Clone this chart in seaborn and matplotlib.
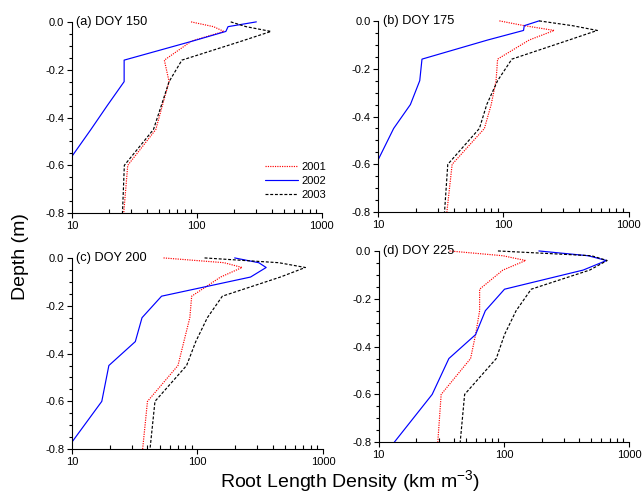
import numpy as np
import pandas as pd
import seaborn as sns
import matplotlib.pyplot as plt
from matplotlib.ticker import LogLocator, MultipleLocator, FixedLocator, NullFormatter

# Depths of the sampling layers (m)
depths = [0.0, -0.02, -0.04, -0.08, -0.16, -0.25, -0.35, -0.45, -0.6, -0.8]
years = ['2001', '2002', '2003']
panels = ['(a) DOY 150', '(b) DOY 175', '(c) DOY 200', '(d) DOY 225']

# Root length density (km m-3)
rld_150_2001 = [90, 136, 165, 91, 55, 60, 53, 47, 28, 26]
rld_150_2002 = [300, 178, 171, 93, 26.2, 26.2, 19.2, 14.2, 8.9, 7.0]
rld_150_2003 = [187, 248, 393, 230, 76, 60, 52, 45, 26.3, 25.4]

rld_175_2001 = [93, 147, 255, 161, 90, 87.5, 80, 70.6, 39, 35.4]
rld_175_2002 = [193, 147, 145, 75, 22.4, 21.5, 18.1, 13.3, 9.6, 7.0]
rld_175_2003 = [193, 356, 563, 335, 117, 90, 73.7, 64.4, 36, 33.9]

rld_200_2001 = [53.7, 163, 227, 153, 90, 87, 78, 70, 40, 36.6]
rld_200_2002 = [198, 308, 353, 265, 51.8, 36.2, 32, 19.7, 17.3, 9.1]
rld_200_2003 = [114, 445, 724, 458, 158, 120, 97, 82, 45.9, 41.9]

rld_225_2001 = [36.7, 98, 149, 98, 63.9, 63.9, 59.3, 54.1, 31.5, 29.6]
rld_225_2002 = [190, 470, 659, 429, 101, 71, 59.3, 36.3, 26.7, 13.3]
rld_225_2003 = [89.5, 500, 667, 484, 165, 125, 101, 86.8, 48.5, 44.7]

panel_data = [
    [rld_150_2001, rld_150_2002, rld_150_2003],
    [rld_175_2001, rld_175_2002, rld_175_2003],
    [rld_200_2001, rld_200_2002, rld_200_2003],
    [rld_225_2001, rld_225_2002, rld_225_2003],
]

sns.set_style('ticks', {'axes.edgecolor': 'black', 'text.color': 'black',
                        'xtick.color': 'black', 'ytick.color': 'black'})
plt.rcParams['font.family'] = ['Liberation Sans', 'DejaVu Sans']
plt.rcParams['mathtext.fontset'] = 'custom'
plt.rcParams['mathtext.rm'] = 'Liberation Sans'

palette = {'2001': '#ff0000', '2002': '#0000ff', '2003': '#000000'}
dashes = {'2001': (1, 1), '2002': '', '2003': (2.5, 1.5)}

fig = plt.figure(figsize=(6.42, 4.98), dpi=100)
# axes boxes in figure fractions (left, bottom, width, height)
boxes = [
    (0.112, 0.572, 0.389, 0.386),
    (0.589, 0.574, 0.390, 0.386),
    (0.112, 0.098, 0.391, 0.386),
    (0.590, 0.112, 0.390, 0.386),
]

for i, (title, series) in enumerate(zip(panels, panel_data)):
    ax = fig.add_axes(boxes[i])
    rows = []
    for yr, vals in zip(years, series):
        for d, v in zip(depths, vals):
            rows.append({'year': yr, 'depth': d, 'rld': v})
    df = pd.DataFrame(rows)
    sns.lineplot(data=df, x='rld', y='depth', hue='year', style='year',
                 palette=palette, dashes=dashes, sort=False, estimator=None,
                 linewidth=0.85, ax=ax, legend=(i == 0))

    ax.set_xscale('log')
    ax.set_xlim(10, 1000)
    ax.set_ylim(-0.8, 0.004)
    ax.spines['left'].set_bounds(-0.8, 0.0)
    ax.spines['top'].set_visible(False)
    ax.spines['right'].set_visible(False)
    ax.xaxis.set_major_locator(FixedLocator([10, 100, 1000]))
    ax.xaxis.set_minor_locator(LogLocator(base=10, subs=np.arange(2, 10)))
    ax.xaxis.set_minor_formatter(NullFormatter())
    ax.set_xticklabels(['10', '100', '1000'])
    ax.yaxis.set_major_locator(FixedLocator([0.0, -0.2, -0.4, -0.6, -0.8]))
    ax.yaxis.set_minor_locator(MultipleLocator(0.05))
    ax.set_yticklabels(['0.0', '-0.2', '-0.4', '-0.6', '-0.8'])
    ax.tick_params(axis='both', which='major', labelsize=8, length=3.5, width=0.8, pad=2)
    ax.tick_params(axis='x', which='minor', direction='in', length=3, width=0.8)
    ax.tick_params(axis='y', which='minor', direction='out', length=2.5, width=0.8)
    for s in ['left', 'bottom']:
        ax.spines[s].set_linewidth(0.8)
    ax.set_xlabel('')
    ax.set_ylabel('')
    ax.text(0.018, 0.995, title, transform=ax.transAxes, fontsize=9.2,
            ha='left', va='center')

    if i == 0:
        ax.legend(title=None, loc='lower right', bbox_to_anchor=(1.04, 0.04),
                  frameon=False, fontsize=8, handlelength=3.0,
                  handletextpad=0.3, labelspacing=0.35, borderpad=0)

fig.text(0.545, 0.032, r'Root Length Density (km m$^{\mathregular{-3}}$)',
         ha='center', va='center', fontsize=14)
fig.text(0.032, 0.485, 'Depth (m)', rotation=90, ha='center', va='center', fontsize=14)

fig.savefig('out.png', dpi=100)
